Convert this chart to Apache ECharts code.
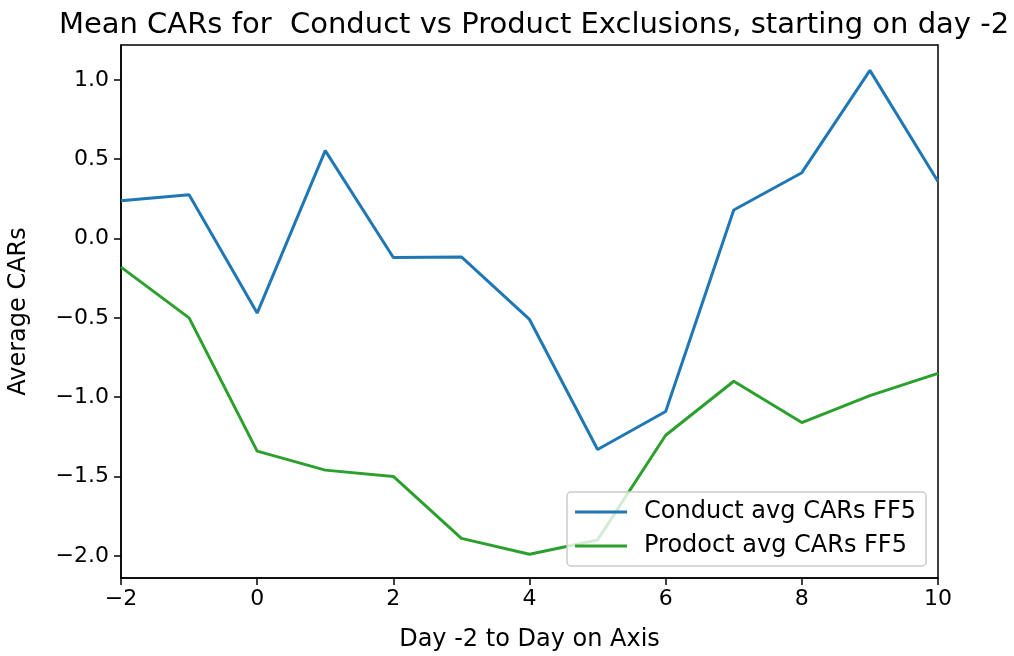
<!DOCTYPE html>
<html><head><meta charset="utf-8">
<script src="https://cdn.jsdelivr.net/npm/echarts@6/dist/echarts.min.js"></script>
<style>body{margin:0}#c{width:1014px;height:656px}</style></head>
<body><div id="c"></div>
<script>
var days = [-2,-1,0,1,2,3,4,5,6,7,8,9,10];
var conduct = [0.238,0.276,-0.47,0.554,-0.12,-0.116,-0.51,-1.33,-1.09,0.18,0.415,1.06,0.36];
var product = [-0.18,-0.50,-1.34,-1.46,-1.50,-1.89,-1.99,-1.90,-1.24,-0.90,-1.16,-0.99,-0.85];
var yTicks = [-2,-1.5,-1,-0.5,0,0.5,1];

function pairs(v){ return days.map(function(d,i){ return [d, v[i]]; }); }
function fmt(v, dec){ return (v < 0 ? '\u2212' : '') + Math.abs(v).toFixed(dec); }

var chart = echarts.init(document.getElementById('c'));
var font = 'DejaVu Sans';
chart.setOption({
  animation: false,
  textStyle: {fontFamily: font},
  title: {text: 'Mean CARs for  Conduct vs Product Exclusions, starting on day -2', left: 529, top: 6, textAlign: 'center',
    textStyle: {fontSize: 29, fontWeight: 'normal', color: '#000', fontFamily: font}},
  grid: {left: 121, right: 76, top: 45, bottom: 78, containLabel: false, outerBoundsMode: 'none', show: true, borderColor: '#000', borderWidth: 1.5},
  legend: {right: 88, bottom: 90, orient: 'vertical', backgroundColor: 'rgba(255,255,255,0.8)', borderColor: '#ccc', borderWidth: 1.5, borderRadius: 4,
    padding: [8, 10, 8, 8], itemGap: 10, itemWidth: 52, icon: 'path://M0,0 L52,0 L52,3 L0,3 Z',
    textStyle: {fontSize: 24, color: '#000', fontFamily: font, padding: [0, 0, 0, 12]}},
  xAxis: {type: 'value', min: -2, max: 10, interval: 2, name: 'Day -2 to Day on Axis', nameLocation: 'middle', nameGap: 50,
    nameTextStyle: {fontSize: 24, color: '#000'},
    splitLine: {show: false}, axisLine: {onZero: false, lineStyle: {color: '#000', width: 1.5}},
    axisTick: {show: true, length: 7, lineStyle: {color: '#000', width: 1.5}},
    axisLabel: {fontSize: 22, color: '#000', margin: 10, formatter: function(v){ return fmt(v, 0); }}},
  yAxis: {type: 'value', min: -2.14, max: 1.22, name: 'Average CARs', nameLocation: 'middle', nameGap: 90,
    nameTextStyle: {fontSize: 24, color: '#000'},
    splitLine: {show: false}, axisLine: {onZero: false, lineStyle: {color: '#000', width: 1.5}},
    axisTick: {show: true, length: 7, lineStyle: {color: '#000', width: 1.5}, customValues: yTicks},
    axisLabel: {fontSize: 22, color: '#000', margin: 12, customValues: yTicks, formatter: function(v){ return fmt(v, 1); }}},
  series: [
    {name: 'Conduct avg CARs FF5', type: 'line', data: pairs(conduct), showSymbol: false, color: '#1f77b4', lineStyle: {width: 3}},
    {name: 'Prodoct avg CARs FF5', type: 'line', data: pairs(product), showSymbol: false, color: '#2ca02c', lineStyle: {width: 3}}
  ]
});
</script></body></html>
